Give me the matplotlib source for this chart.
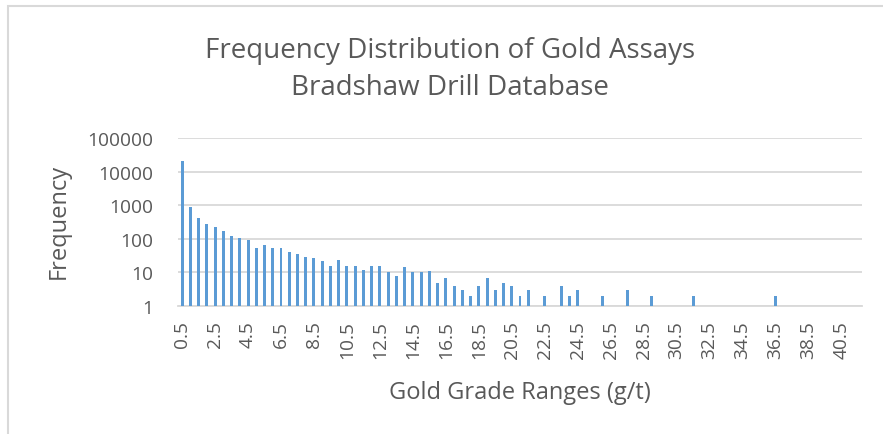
import numpy as np
import matplotlib.pyplot as plt
from matplotlib.patches import Rectangle

# gold grade bins (g/t), 0.5 step
grades = [0.5 + 0.5 * i for i in range(83)]
grade_labels = ["%g" % g if g % 1 else "%.1f" % g for g in grades]

# assay counts per bin, 0 = no assays in that range
counts = [21000, 870, 410, 280, 222, 169, 123, 105, 94, 53,
          65, 54, 54, 40, 36, 29, 26, 22, 16, 24,
          15, 15, 12, 15, 15, 10, 8, 14, 10, 10,
          11, 5, 7, 4, 3, 2, 4, 7, 3, 5,
          4, 2, 3, 0, 2, 0, 4, 2, 3, 0,
          0, 2, 0, 0, 3, 0, 0, 2, 0, 0,
          0, 0, 2, 0, 0, 0, 0, 0, 0, 0,
          0, 0, 2, 0, 0, 0, 0, 0, 0, 0,
          0, 0, 0]

grey = "#595959"
W, H = 883, 435
plt.rcParams['font.family'] = ['Open Sans', 'DejaVu Sans']

fig = plt.figure(figsize=(W / 100, H / 100), dpi=100)
ax = fig.add_axes([178 / W, 1 - 307 / H, 684 / W, 168 / H])

x = np.arange(len(grades))
heights = np.array(counts, dtype=float)
heights[heights == 0] = np.nan
ax.bar(x, heights, width=0.36, color="#5B9BD5", zorder=3)

ax.set_yscale("log")
ax.set_ylim(1, 100000)
ax.set_xlim(-0.5, len(grades) - 0.5)
ax.set_yticks([1, 10, 100, 1000, 10000, 100000])
ax.set_yticklabels(["1", "10", "100", "1000", "10000", "100000"])
ax.minorticks_off()
ax.yaxis.grid(True, color="#D9D9D9", linewidth=1.3, zorder=0)
ax.tick_params(axis="y", length=0, pad=18, labelsize=13.8, labelcolor=grey)

ax.set_xticks(x[::4])
ax.set_xticklabels([grade_labels[i] for i in range(0, len(grades), 4)],
                   rotation=90)
ax.tick_params(axis="x", length=0, pad=10, labelsize=13.8, labelcolor=grey)

for side in ["top", "right", "left"]:
    ax.spines[side].set_visible(False)
ax.spines["bottom"].set_color("#D9D9D9")
ax.spines["bottom"].set_linewidth(1.3)

fig.text(59 / W, 1 - 221 / H, "Frequency", rotation=90,
         ha="center", va="center", fontsize=17, color=grey)
fig.text(520 / W, 1 - 393 / H, "Gold Grade Ranges (g/t)",
         ha="center", va="center", fontsize=17, color=grey)

fig.text(450 / W, 1 - 51 / H, "Frequency Distribution of Gold Assays",
         ha="center", va="center", fontsize=20, color=grey)
fig.text(450 / W, 1 - 88 / H, "Bradshaw Drill Database",
         ha="center", va="center", fontsize=20, color=grey)

# chart frame, runs off the right and bottom edges
fig.patches.append(Rectangle((8 / W, -0.1), 1.2, 1 - 7 / H + 0.1,
                             transform=fig.transFigure, fill=False,
                             edgecolor="#D9D9D9", linewidth=1.5))

fig.savefig("out.png", dpi=100)
